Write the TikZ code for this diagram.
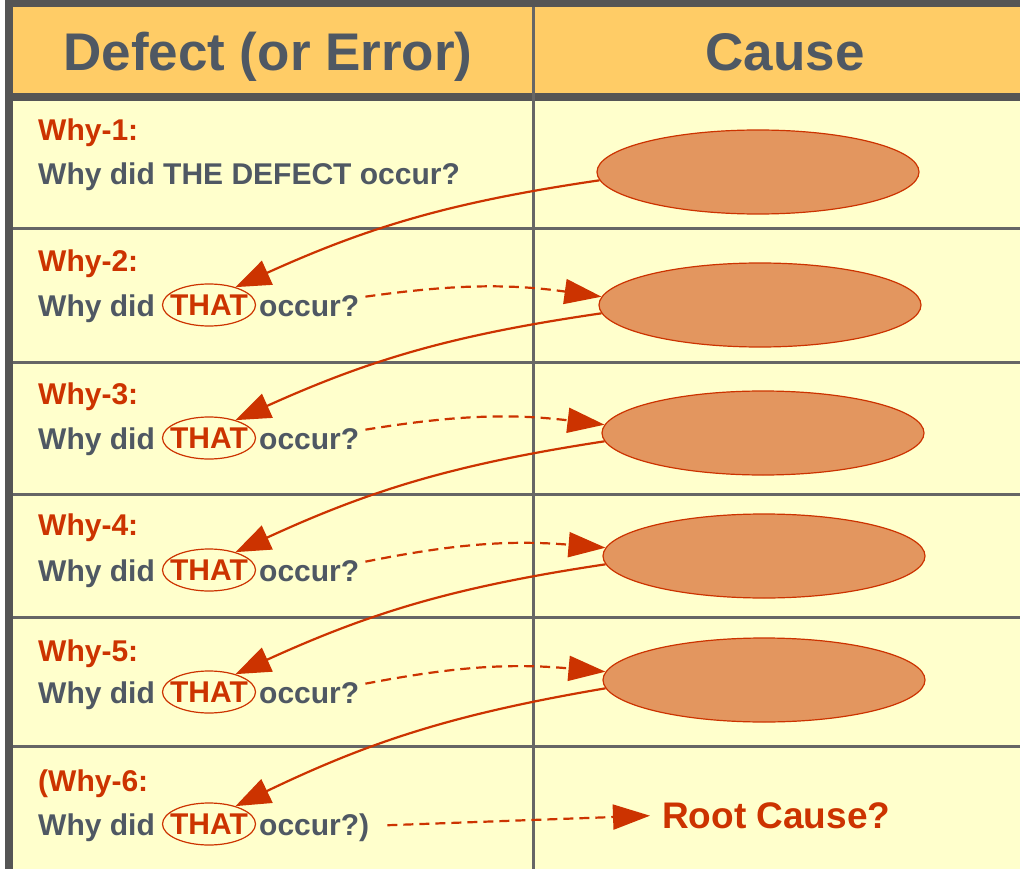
\documentclass[tikz,border=0pt]{standalone}
\usepackage{fontspec}
\setmainfont{Liberation Sans}
\usetikzlibrary{arrows.meta,shapes.geometric,calc}
\definecolor{hdr}{HTML}{FFCC66}
\definecolor{cream}{HTML}{FFFFCC}
\definecolor{rulegray}{HTML}{555555}
\definecolor{gridgray}{HTML}{666666}
\definecolor{txt}{HTML}{4F5863}
\definecolor{rust}{HTML}{CC3300}
\definecolor{causefill}{HTML}{E3965F}

\begin{document}
\begin{tikzpicture}[x=1pt,y=-1pt,
  hdrtext/.style={font=\fontsize{53}{62}\selectfont\bfseries, text=txt, inner sep=0pt, anchor=base},
  whytag/.style={font=\fontsize{30}{36}\selectfont\bfseries, text=rust, anchor=base west, inner sep=0pt},
  body/.style={font=\fontsize{30}{36}\selectfont\bfseries, text=txt, anchor=base west, inner sep=0pt},
  that/.style={ellipse, draw=rust, line width=1.2pt, minimum width=93pt, minimum height=42pt,
    inner sep=0pt, font=\fontsize{30}{36}\selectfont\bfseries, text=rust},
  cause/.style={ellipse, draw=rust, fill=causefill, line width=1.2pt,
    minimum width=322pt, minimum height=84pt},
  solidarrow/.style={draw=rust, line width=2.2pt, -{Triangle[length=35pt,width=26pt]}},
  dasharrow/.style={draw=rust, line width=2.2pt, dash pattern=on 10pt off 6pt,
    -{Triangle[length=37pt,width=25pt]}},
  rowline/.style={draw=gridgray, line width=3pt}
]
\useasboundingbox (0,0) rectangle (1020,869);

% table background and frame
\fill[cream] (0,0) rectangle (1020,869);
\fill[white] (0,0) rectangle (5,869);
\fill[hdr] (5,0) rectangle (1020,97);
\fill[rulegray] (5,0) rectangle (1020,7);
\fill[rulegray] (5,0) rectangle (13,869);
\fill[rulegray] (5,93) rectangle (1020,101);
\foreach \yy in {229,362,494,617,746}
  \draw[rowline] (13,\yy) -- (1020,\yy);
\draw[rowline] (533,7) -- (533,869);

% header
\node[hdrtext] (hdef) at (268,71) {Defect (or Error)};
\node[hdrtext] (hcause) at (785,71) {Cause};

% cause ellipses
\node[cause] (c1) at (758,172) {};
\node[cause] (c2) at (760,305) {};
\node[cause] (c3) at (763,433) {};
\node[cause] (c4) at (764,556) {};
\node[cause] (c5) at (764,680) {};

% row 1
\node[whytag] (w1) at (38,141) {Why-1:};
\node[body] (q1) at (38,185) {Why did THE DEFECT occur?};

% row 2
\node[whytag] (w2) at (38,271) {Why-2:};
\node[body] (a2) at (38,316) {Why did};
\node[that] (t2) at (209,305) {\makebox[0pt]{THAT}};
\node[body] (o2) at (259,316) {occur?};

% row 3
\node[whytag] (w3) at (38,404) {Why-3:};
\node[body] (a3) at (38,449) {Why did};
\node[that] (t3) at (209,438) {\makebox[0pt]{THAT}};
\node[body] (o3) at (259,449) {occur?};

% row 4
\node[whytag] (w4) at (38,535) {Why-4:};
\node[body] (a4) at (38,581) {Why did};
\node[that] (t4) at (209,570) {\makebox[0pt]{THAT}};
\node[body] (o4) at (259,581) {occur?};

% row 5
\node[whytag] (w5) at (38,661) {Why-5:};
\node[body] (a5) at (38,703) {Why did};
\node[that] (t5) at (209,692) {\makebox[0pt]{THAT}};
\node[body] (o5) at (259,703) {occur?};

% row 6
\node[whytag] (w6) at (38,791) {(Why-6:};
\node[body] (a6) at (38,835) {Why did};
\node[that] (t6) at (209,824) {\makebox[0pt]{THAT}};
\node[body] (o6) at (259,835) {occur?)};
\node[font=\fontsize{37}{44}\selectfont\bfseries, text=rust, anchor=base west, inner sep=0pt]
  (root) at (662,828) {Root Cause?};

% each cause feeds the next question
\draw[solidarrow] (c1.183) to[bend right=8] (t2.34);
\draw[solidarrow] (c2.183) to[bend right=8] (t3.34);
\draw[solidarrow] (c3.183) to[bend right=8] (t4.34);
\draw[solidarrow] (c4.183) to[bend right=8] (t5.34);
\draw[solidarrow] (c5.183) to[bend right=8] (t6.34);

% each question leads to its cause
\draw[dasharrow] ($(o2.east)+(6,-9)$) to[bend left=8] (c2.177);
\draw[dasharrow] ($(o3.east)+(6,-9)$) to[bend left=8] (c3.177);
\draw[dasharrow] ($(o4.east)+(6,-9)$) to[bend left=8] (c4.177);
\draw[dasharrow] ($(o5.east)+(6,-9)$) to[bend left=8] (c5.177);
\draw[dasharrow, shorten >=12pt] ($(o6.east)+(18,-2)$) -- (root.west);
\end{tikzpicture}
\end{document}
